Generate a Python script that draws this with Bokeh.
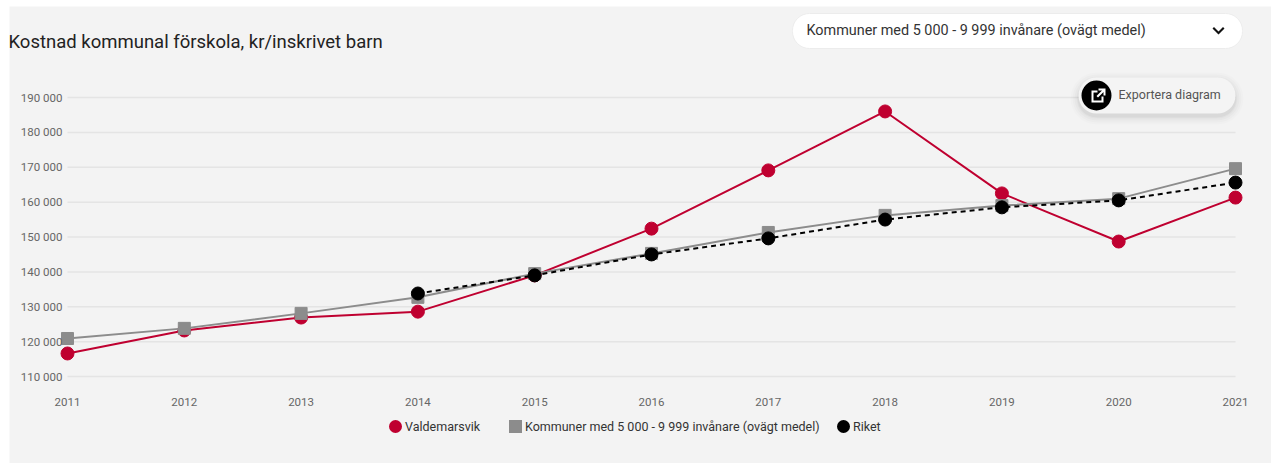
from bokeh.plotting import figure
from bokeh.models import (Range1d, FixedTicker, Legend, LegendItem, Label, BoxAnnotation,
                          PolyAnnotation)
from bokeh.embed import file_html
from bokeh.resources import INLINE

years = [2011, 2012, 2013, 2014, 2015, 2016, 2017, 2018, 2019, 2020, 2021]
valdemarsvik = [116600, 123200, 126900, 128600, 139000, 152400, 169100, 186000, 162500, 148700, 161300]
kommuner = [120900, 123800, 128100, 132700, 139500, 145300, 151300, 156200, 159000, 161000, 169600]
riket_years = [2014, 2015, 2016, 2017, 2018, 2019, 2020, 2021]
riket = [133800, 139000, 145000, 149600, 155000, 158500, 160500, 165600]
y_ticks = [110000, 120000, 130000, 140000, 150000, 160000, 170000, 180000, 190000]
y_labels = ["110 000", "120 000", "130 000", "140 000", "150 000", "160 000", "170 000", "180 000", "190 000"]
title_text = "Kostnad kommunal förskola, kr/inskrivet barn"
dropdown_text = "Kommuner med 5 000 - 9 999 invånare (ovägt medel)"
export_text = "Exportera diagram"
series_names = ["Valdemarsvik", "Kommuner med 5 000 - 9 999 invånare (ovägt medel)", "Riket"]

RED, GREY, BLACK, BG = "#bf0030", "#8c8c8c", "#000000", "#f3f3f3"

W, H = 1271, 463
p = figure(width=W, height=H, output_backend="svg", toolbar_location=None,
           x_range=Range1d(2010.4264, 2021.3082), y_range=Range1d(85054, 217814),
           min_border_left=0, min_border_right=0, min_border_top=0, min_border_bottom=0,
           background_fill_color="#ffffff", border_fill_color="#ffffff", outline_line_color=None)
p.grid.visible = False

for ax in (p.xaxis[0], p.yaxis[0]):
    ax.axis_line_color = None
    ax.major_tick_line_color = None
    ax.minor_tick_line_color = None
    ax.major_label_text_font = "Roboto"
    ax.major_label_text_font_size = "11.5px"
    ax.major_label_text_color = "#666666"
p.xaxis[0].ticker = FixedTicker(ticks=years)
p.xaxis[0].major_label_overrides = {y: str(y) for y in years}
p.xaxis[0].fixed_location = 106559
p.xaxis[0].major_label_standoff = 3
p.yaxis[0].ticker = FixedTicker(ticks=y_ticks)
p.yaxis[0].major_label_overrides = dict(zip(y_ticks, y_labels))
p.yaxis[0].fixed_location = 2011.008
p.yaxis[0].major_label_standoff = 0


def box(l, t, r, b, radius=0, color="#ffffff", alpha=1.0, line=None, level="overlay"):
    p.add_layout(BoxAnnotation(left=l, right=r, top=t, bottom=b,
                               left_units="canvas", right_units="canvas",
                               top_units="canvas", bottom_units="canvas",
                               border_radius=radius, fill_color=color, fill_alpha=alpha,
                               line_color=line, line_alpha=1.0 if line else 0, level=level))


def poly(points, color="#ffffff"):
    p.add_layout(PolyAnnotation(xs=[a for a, _ in points], ys=[b for _, b in points],
                                xs_units="canvas", ys_units="canvas",
                                fill_color=color, fill_alpha=1, line_color=None, level="overlay"))


def text(t, x, y, size, color, align="left"):
    p.add_layout(Label(x=x, y=y, x_units="canvas", y_units="canvas", text=t,
                       text_font="Roboto", text_font_size=size, text_color=color,
                       text_align=align, text_baseline="middle", level="overlay"))


box(9, 6, W, H, color=BG, level="underlay")

p.segment(x0=[years[0]] * len(y_ticks), x1=[years[-1]] * len(y_ticks), y0=y_ticks, y1=y_ticks,
          line_color="#e4e4e4", line_width=1.5)

p.line(years, valdemarsvik, line_color=RED, line_width=2)
p.scatter(years, valdemarsvik, marker="circle", size=13, fill_color=RED, line_color=RED)
p.line(years, kommuner, line_color=GREY, line_width=2)
p.scatter(years, kommuner, marker="square", size=12, fill_color=GREY, line_color=GREY)
p.line(riket_years, riket, line_color=BLACK, line_width=2, line_dash="5 4")
p.scatter(riket_years, riket, marker="circle", size=13, fill_color=BLACK, line_color=BLACK)

# One legend per entry (the reference's gaps are uneven). Legend keys come from undrawn
# (NaN) renderers with a thick outline, so that a large key can sit close to its label.
GLYPH = 20
nan = float("nan")
for name, colour, marker, centre in zip(series_names, (RED, GREY, BLACK),
                                        ("circle", "square", "circle"), (395, 515, 843)):
    key = p.scatter(x=[nan], y=[nan], marker=marker, size=10, fill_color=colour, line_color=colour,
                    line_width=5, line_join="miter")
    p.add_layout(Legend(items=[LegendItem(label=name, renderers=[key])],
                        orientation="horizontal", location=(centre - GLYPH / 2, 27),
                        background_fill_alpha=0, border_line_color=None,
                        label_text_font="Roboto", label_text_font_size="12.5px",
                        label_text_color="#333333", glyph_width=GLYPH, glyph_height=GLYPH,
                        label_standoff=0, spacing=0, padding=0, margin=0))

text(title_text, 8, 41, "18.5px", "#222222")

# dropdown
box(792, 13, 1242, 48, radius=17, line="#ececec")
text(dropdown_text, 806, 30, "14.4px", "#333333")
poly([(1212, 28), (1213.5, 26.5), (1218, 31), (1222.5, 26.5), (1224, 28), (1218, 34)], "#111111")

# export button with soft shadow
for grow, alpha in ((8, 0.012), (6, 0.016), (4, 0.02), (2, 0.025), (1, 0.03)):
    box(1078 - grow, 77 - grow + 3, 1235 + grow, 113 + grow + 3, radius=18 + grow, color="#000000", alpha=alpha)
box(1078, 77, 1235, 113, radius=18, color="#f4f4f4")
box(1081, 80, 1111, 110, radius=15, color="#000000")
text(export_text, 1118, 94, "12.5px", "#555555")
poly([(1091, 90), (1097, 90), (1097, 92), (1093, 92), (1093, 100), (1101, 100), (1101, 96), (1103, 96),
      (1103, 102), (1091, 102)])
poly([(1098, 88), (1105, 88), (1105, 95), (1103, 95), (1103, 91.5), (1097.5, 97), (1096, 95.5),
      (1101.5, 90), (1098, 90)])

open("out.html", "w").write(file_html(p, INLINE))
